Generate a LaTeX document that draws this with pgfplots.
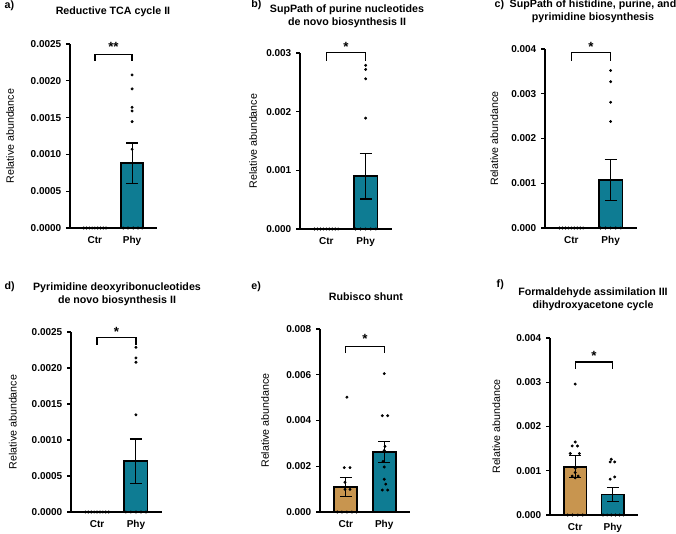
\documentclass[border=0pt]{standalone}
\usepackage{fontspec}
\setmainfont{Liberation Sans}
\setsansfont{Liberation Sans}
\usepackage{pgfplots}
\pgfplotsset{compat=1.18}
\definecolor{phyteal}{RGB}{14,124,147}
\definecolor{ctrtan}{RGB}{200,149,79}

\pgfplotsset{
  panel/.style={
    scale only axis, anchor=south west, clip=false,
    axis lines=left, axis line style={-, line width=1.6pt},
    xmin=0.33, xmax=2.67, ymin=0,
    xtick={1,2}, xticklabels={Ctr,Phy},
    x tick style={draw=none},
    y tick style={line width=1pt, black},
    tick align=outside, major tick length=3pt,
    scaled y ticks=false,
    /pgf/number format/assume math mode=true,
    tick label style={font=\fontsize{7.5}{9}\selectfont\bfseries},
    ylabel={Relative abundance},
    ylabel style={font=\fontsize{8}{9}\selectfont, anchor=center},
  },
  ylab/.style={ylabel style={at={(axis description cs:#1,0.5)}}},
  prec/.style={yticklabel style={/pgf/number format/.cd, fixed, fixed zerofill, precision=#1}},
  phybar/.style={ybar, bar width=0.6, bar shift=0pt, fill=phyteal, draw=black, line width=1.3pt, forget plot},
  ctrbar/.style={ybar, bar width=0.6, bar shift=0pt, fill=ctrtan, draw=black, line width=1.3pt, forget plot},
  dots/.style={only marks, mark=*, mark size=0.9pt, black, forget plot},
  sem/.style={draw=none, mark=none, forget plot,
    error bars/.cd, y dir=both, y explicit,
    error bar style={draw=black, solid, line width=0.8pt},
    error mark options={rotate=90, draw=black, solid, line width=0.8pt, mark size=4.5pt}},
  bracket/.style={black, line width=1pt, mark=none, forget plot},
}
\newcommand{\ttl}{\fontsize{8}{9.75}\selectfont\bfseries}

\begin{document}
\begin{tikzpicture}
\useasboundingbox (0,0) rectangle (507pt,-399.75pt);

% ---------- a) Reductive TCA cycle II
\node[anchor=west, font=\ttl] at (0pt,-4.5pt) {a)};
\node[font=\ttl] at (84.75pt,-9pt) {Reductive TCA cycle II};
\begin{axis}[panel, prec=4, ylab=-0.69, at={(52.5pt,-171pt)}, width=65.25pt, height=138pt,
  ymax=0.0025, ytick={0,0.0005,0.001,0.0015,0.002,0.0025}]
\addplot[phybar] coordinates {(2,0.000883)};
\addplot[dots] coordinates {
  (0.70,0) (0.775,0) (0.85,0) (0.925,0) (1.0,0) (1.075,0) (1.15,0) (1.225,0) (1.30,0)
  (1.76,0) (1.89,0) (2.03,0) (2.16,0) (2.27,0)
  (2,0.00208) (2,0.00189) (2,0.00164) (2,0.00159) (2,0.001445) (2,0.00107)};
\addplot[sem] coordinates {(2,0.000883) +- (0,0.000272)};
\addplot[bracket] coordinates {(1,0.00227) (1,0.00236) (2,0.00236) (2,0.00227)};
\node[font=\fontsize{10}{10}\selectfont\bfseries] at (axis cs:1.5,0.00246) {**};
\end{axis}

% ---------- b) SupPath of purine nucleotides de novo biosynthesis II
\node[anchor=west, font=\ttl] at (185pt,-3.75pt) {b)};
\node[font=\ttl, align=center] at (260.25pt,-12.4pt) {SupPath of purine nucleotides\\de novo biosynthesis II};
\begin{axis}[panel, prec=3, ylab=-0.51, at={(225pt,-171.75pt)}, width=69pt, height=132pt,
  ymax=0.003, ytick={0,0.001,0.002,0.003}]
\addplot[phybar] coordinates {(2,0.000898)};
\addplot[dots] coordinates {
  (0.70,0) (0.775,0) (0.85,0) (0.925,0) (1.0,0) (1.075,0) (1.15,0) (1.225,0) (1.30,0)
  (1.74,0) (1.87,0) (2.0,0) (2.13,0) (2.26,0)
  (2,0.00279) (2,0.00272) (2,0.00256) (2,0.00189)};
\addplot[sem] coordinates {(2,0.000898) +- (0,0.000387)};
\addplot[bracket] coordinates {(1,0.00287) (1,0.00301) (2,0.00301) (2,0.00287)};
\node[font=\fontsize{10}{10}\selectfont\bfseries] at (axis cs:1.5,0.00310) {*};
\end{axis}

% ---------- c) SupPath of histidine, purine, and pyrimidine biosynthesis
\node[anchor=west, font=\ttl] at (367.5pt,-3.75pt) {c)};
\node[font=\ttl, align=center] at (444.75pt,-8.25pt) {SupPath of histidine, purine, and\\pyrimidine biosynthesis};
\begin{axis}[panel, prec=3, ylab=-0.55, at={(408.75pt,-171pt)}, width=69pt, height=134.25pt,
  ymax=0.004, ytick={0,0.001,0.002,0.003,0.004}]
\addplot[phybar] coordinates {(2,0.001078)};
\addplot[dots] coordinates {
  (0.70,0) (0.775,0) (0.85,0) (0.925,0) (1.0,0) (1.075,0) (1.15,0) (1.225,0) (1.30,0)
  (1.74,0) (1.87,0) (2.0,0) (2.13,0) (2.26,0)
  (2,0.00352) (2,0.00327) (2,0.00281) (2,0.00238)};
\addplot[sem] coordinates {(2,0.001078) +- (0,0.00046)};
\addplot[bracket] coordinates {(1,0.00374) (1,0.00392) (2,0.00392) (2,0.00374)};
\node[font=\fontsize{10}{10}\selectfont\bfseries] at (axis cs:1.5,0.00404) {*};
\end{axis}

% ---------- d) Pyrimidine deoxyribonucleotides de novo biosynthesis II
\node[anchor=west, font=\ttl] at (0pt,-215pt) {d)};
\node[font=\ttl, align=center] at (87.75pt,-220.5pt) {Pyrimidine deoxyribonucleotides\\de novo biosynthesis II};
\begin{axis}[panel, prec=4, ylab=-0.64, at={(53.25pt,-384pt)}, width=68.25pt, height=135pt,
  ymax=0.0025, ytick={0,0.0005,0.001,0.0015,0.002,0.0025}]
\addplot[phybar] coordinates {(2,0.000704)};
\addplot[dots] coordinates {
  (0.70,0) (0.775,0) (0.85,0) (0.925,0) (1.0,0) (1.075,0) (1.15,0) (1.225,0) (1.30,0)
  (1.74,0) (1.87,0) (2.0,0) (2.13,0) (2.26,0)
  (2,0.002287) (2,0.00214) (2,0.00208) (2,0.00135)};
\addplot[sem] coordinates {(2,0.000704) +- (0,0.00031)};
\addplot[bracket] coordinates {(1,0.002324) (1,0.002426) (2,0.002426) (2,0.002324)};
\node[font=\fontsize{10}{10}\selectfont\bfseries] at (axis cs:1.5,0.00250) {*};
\end{axis}

% ---------- e) Rubisco shunt
\node[anchor=west, font=\ttl] at (185pt,-215pt) {e)};
\node[font=\ttl] at (274.5pt,-222.75pt) {Rubisco shunt};
\begin{axis}[panel, prec=3, ylab=-0.61, at={(240pt,-384pt)}, width=67.5pt, height=137.25pt,
  ymax=0.008, ytick={0,0.002,0.004,0.006,0.008}]
\addplot[ctrbar] coordinates {(1,0.00109)};
\addplot[phybar] coordinates {(2,0.00262)};
\addplot[dots] coordinates {
  (0.78,0) (0.90,0) (1.03,0) (1.16,0) (1.28,0)
  (1.03,0.00502) (0.96,0.00194) (1.11,0.00194) (0.98,0.00130) (0.98,0.00099) (1.11,0.00099)
  (2.0,0.00605) (1.95,0.00421) (2.09,0.00421) (2.02,0.00287) (2.0,0.00269) (1.97,0.00221)
  (2.0,0.00197) (2.0,0.00143) (2.04,0.00122) (1.95,0.00096) (2.09,0.00096)};
\addplot[sem] coordinates {(1,0.00109) +- (0,0.00042) (2,0.00262) +- (0,0.00047)};
\addplot[bracket] coordinates {(1,0.00695) (1,0.00724) (2,0.00724) (2,0.00695)};
\node[font=\fontsize{10}{10}\selectfont\bfseries] at (axis cs:1.5,0.00755) {*};
\end{axis}

% ---------- f) Formaldehyde assimilation III dihydroxyacetone cycle
\node[anchor=west, font=\ttl] at (369pt,-213.75pt) {f)};
\node[font=\ttl, align=center] at (444.75pt,-224.6pt) {Formaldehyde assimilation III\\dihydroxyacetone cycle};
\begin{axis}[panel, prec=3, ylab=-0.61, at={(412.5pt,-386.25pt)}, width=66pt, height=132.75pt,
  ymax=0.004, ytick={0,0.001,0.002,0.003,0.004}]
\addplot[ctrbar] coordinates {(1,0.00109)};
\addplot[phybar] coordinates {(2,0.000465)};
\addplot[dots] coordinates {
  (0.80,0) (0.93,0) (1.07,0) (1.20,0)
  (1.0,0.00296) (1.0,0.00165) (0.92,0.00156) (1.06,0.00156) (0.87,0.00139) (1.11,0.00139)
  (1.0,0.00106) (1.0,0.00096) (0.92,0.00088) (1.08,0.00088) (1.0,0.00084)
  (1.74,0) (1.85,0) (1.96,0) (2.07,0) (2.18,0) (2.28,0)
  (1.96,0.00126) (1.93,0.00120) (2.05,0.00120) (1.93,0.00081) (2.05,0.00086)};
\addplot[sem] coordinates {(1,0.00109) +- (0,0.00025) (2,0.000465) +- (0,0.000165)};
\addplot[bracket] coordinates {(1,0.00331) (1,0.00346) (2,0.00346) (2,0.00331)};
\node[font=\fontsize{10}{10}\selectfont\bfseries] at (axis cs:1.5,0.00360) {*};
\end{axis}
\end{tikzpicture}
\end{document}
